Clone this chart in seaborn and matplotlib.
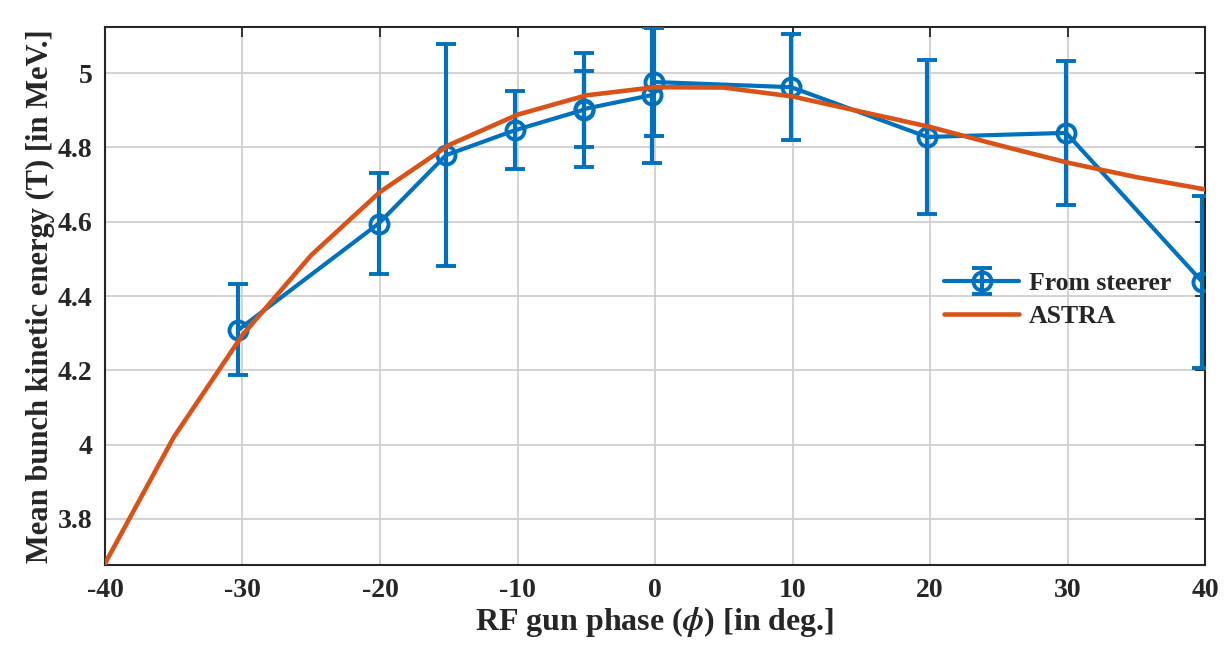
import matplotlib
matplotlib.use("Agg")
import matplotlib.pyplot as plt
import numpy as np
import pandas as pd
import seaborn as sns

# measured points (from steerer)
steer_phase = [-30.3, -20.1, -15.2, -10.2, -5.2, -5.2, -0.2, -0.1, 9.9, 19.8, 29.9, 39.8]
steer_energy = [4.309, 4.595, 4.779, 4.846, 4.901, 4.903, 4.941, 4.976, 4.962, 4.828, 4.839, 4.438]
steer_err = [0.122, 0.136, 0.298, 0.105, 0.154, 0.102, 0.182, 0.146, 0.143, 0.206, 0.194, 0.232]

# ASTRA simulation
astra_phase = [-40, -35, -30, -25, -20, -15, -10, -5, 0, 5, 10, 15, 20, 25, 30, 35, 40]
astra_energy = [3.68, 4.02, 4.295, 4.51, 4.68, 4.806, 4.888, 4.94, 4.962, 4.961, 4.937,
                4.896, 4.855, 4.806, 4.759, 4.72, 4.687]

x_ticks = [-40, -30, -20, -10, 0, 10, 20, 30, 40]
y_ticks = [3.8, 4.0, 4.2, 4.4, 4.6, 4.8, 5.0]

sns.set_theme(style="whitegrid")
plt.rcParams["font.family"] = ["Liberation Serif", "DejaVu Serif"]
plt.rcParams["font.weight"] = "bold"
plt.rcParams["mathtext.fontset"] = "stix"
plt.rcParams["axes.unicode_minus"] = False

blue = "#0072BD"
orange = "#D95319"

fig = plt.figure(figsize=(12.25, 6.52), dpi=100)
ax = fig.add_axes([0.0857, 0.1334, 0.898, 0.8252])

ax.errorbar(steer_phase, steer_energy, yerr=steer_err, color=blue, lw=3.0,
            marker="o", ms=13, mfc="none", mec=blue, mew=2.8,
            capsize=7, capthick=3.0, elinewidth=3.0, label="From steerer", zorder=3)

astra = pd.DataFrame({"phase": astra_phase, "energy": astra_energy})
sns.lineplot(data=astra, x="phase", y="energy", ax=ax, color=orange, lw=3.3,
             sort=False, label="ASTRA", zorder=4)

ax.set_xlim(-40, 40)
ax.set_ylim(3.676, 5.124)
ax.set_xticks(x_ticks)
ax.set_yticks(y_ticks)
ax.set_xticklabels([f"{t:g}" for t in x_ticks])
ax.set_yticklabels([f"{t:g}" for t in y_ticks])
ax.tick_params(axis="both", direction="in", length=7, width=1.3, colors="#262626",
               labelsize=20, top=True, right=True, pad=9)
for lab in ax.get_xticklabels() + ax.get_yticklabels():
    lab.set_fontweight("bold")
    lab.set_color("#262626")

ax.grid(True, color="#d0d0d0", lw=1.3)
for s in ax.spines.values():
    s.set_visible(True)
    s.set_color("#262626")
    s.set_linewidth(1.5)
ax.set_facecolor("white")

ax.set_xlabel(r"RF gun phase ($\phi$) [in deg.]", fontsize=23, fontweight="bold", labelpad=2)
ax.set_ylabel("Mean bunch kinetic energy (T) [in MeV.]", fontsize=22, fontweight="bold", labelpad=2)

handles, labels = ax.get_legend_handles_labels()
order = [labels.index("From steerer"), labels.index("ASTRA")]
ax.legend([handles[i] for i in order], [labels[i] for i in order],
          loc="upper left", bbox_to_anchor=(0.742, 0.588), frameon=False,
          prop={"family": "Liberation Serif", "weight": "bold", "size": 18.5},
          handlelength=2.9, handletextpad=0.4, labelspacing=0.4)

fig.savefig("out.png", dpi=100)
